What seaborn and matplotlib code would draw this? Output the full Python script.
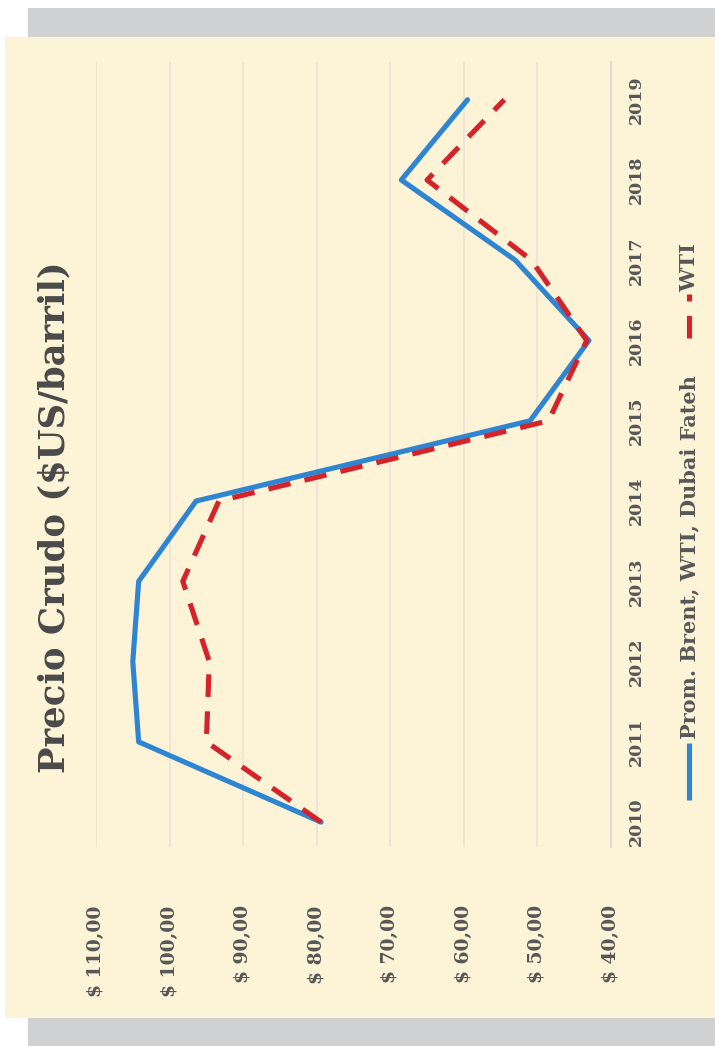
import matplotlib
matplotlib.use("Agg")
import matplotlib.pyplot as plt
from matplotlib.lines import Line2D
from matplotlib.patches import Rectangle
import pandas as pd
import seaborn as sns

# Annual crude prices (US$/barrel)
anios = [2010, 2011, 2012, 2013, 2014, 2015, 2016, 2017, 2018, 2019]
prom_brent_wti_dubai = [79.4, 104.2, 105.0, 104.2, 96.4, 51.0, 43.0, 53.0, 68.5, 59.5]
wti = [79.4, 95.0, 94.6, 98.2, 93.3, 48.5, 43.3, 50.8, 65.0, 54.5]
series = ["Prom. Brent, WTI, Dubai Fateh", "WTI"]
precio_ticks = [40, 50, 60, 70, 80, 90, 100, 110]
titulo = "Precio Crudo ($US/barril)"

df = pd.concat([
    pd.DataFrame({"anio": anios, "precio": prom_brent_wti_dubai, "serie": series[0]}),
    pd.DataFrame({"anio": anios, "precio": wti, "serie": series[1]}),
])

AZUL = "#2E86D3"
ROJO = "#D5232A"
CREMA = "#FDF3D7"
GRIS = "#D0D1D3"
TEXTO = "#575757"

sns.set_theme(style="white")
plt.rcParams["font.family"] = ["DejaVu Serif"]
plt.rcParams["font.weight"] = "bold"

W, H = 715, 1046
fig = plt.figure(figsize=(W / 100, H / 100), dpi=100)
fig.patch.set_facecolor("white")


def px_rect(x0, y0, x1, y1, color):
    fig.add_artist(Rectangle((x0 / W, 1 - y1 / H), (x1 - x0) / W, (y1 - y0) / H,
                             transform=fig.transFigure, facecolor=color,
                             edgecolor="none", zorder=-10))


# Page frame: grey bands above and below a cream panel
px_rect(28, 8, W, 37, GRIS)
px_rect(5, 37, W, 1018, CREMA)
px_rect(28, 1018, W, H, GRIS)

# Plot area (chart laid out sideways: price runs right-to-left, years bottom-to-top)
ax_l, ax_r, ax_t, ax_b = 96, 611, 62, 847
ax = fig.add_axes([ax_l / W, 1 - ax_b / H, (ax_r - ax_l) / W, (ax_b - ax_t) / H])
ax.set_facecolor("none")

sns.lineplot(data=df, x="precio", y="anio", hue="serie", style="serie",
             palette={series[0]: AZUL, series[1]: ROJO},
             dashes={series[0]: "", series[1]: (4.4, 2.8)},
             orient="y", linewidth=3.7, legend=False, ax=ax)

ax.set_xlim(110, 40)
ax.set_ylim(2009.69, 2019.47)

ax.set_xticks(precio_ticks)
ax.set_xticklabels([f"$ {v},00" for v in precio_ticks], rotation=90,
                   fontsize=13.5, color=TEXTO, fontweight="bold")
ax.tick_params(axis="x", length=0, pad=42)

ax.yaxis.tick_right()
ax.set_yticks(anios)
ax.set_yticklabels([str(a) for a in anios], fontsize=12.5, color=TEXTO,
                   fontweight="bold")
for t in ax.yaxis.get_major_ticks():
    t.label2.set_rotation(90)
    t.label2.set_va("center")
    t.label2.set_ha("left")
ax.tick_params(axis="y", length=0, pad=12)

ax.grid(axis="x", color="#EEE4D8", linewidth=1.4)
ax.grid(axis="y", visible=False)
for s in ["left", "top", "bottom"]:
    ax.spines[s].set_visible(False)
ax.spines["right"].set_color("#E4D9D2")
ax.spines["right"].set_linewidth(1.4)
ax.set_xlabel("")
ax.set_ylabel("")

# Title
fig.text(54 / W, 1 - 517 / H, titulo, rotation=90, ha="center", va="center",
         fontsize=25.5, fontweight="bold", color="#4A4A4A")

# Legend, written sideways along the right edge
lines = ax.get_lines()
leg_x = 689 / W
fig.add_artist(Line2D([leg_x, leg_x], [1 - 800 / H, 1 - 743 / H],
                      transform=fig.transFigure, color=lines[0].get_color(),
                      linewidth=3.7, solid_capstyle="butt"))
fig.text(leg_x, 1 - 739 / H, series[0], rotation=90, ha="center", va="bottom",
         fontsize=15, fontweight="bold", color=TEXTO)
fig.add_artist(Line2D([leg_x, leg_x], [1 - 338 / H, 1 - 294 / H],
                      transform=fig.transFigure, color=lines[1].get_color(),
                      linewidth=3.7, dashes=(4.4, 2.8)))
fig.text(leg_x, 1 - 292 / H, series[1], rotation=90, ha="center", va="bottom",
         fontsize=15, fontweight="bold", color=TEXTO)

fig.savefig("out.png", dpi=100, facecolor=fig.get_facecolor())
